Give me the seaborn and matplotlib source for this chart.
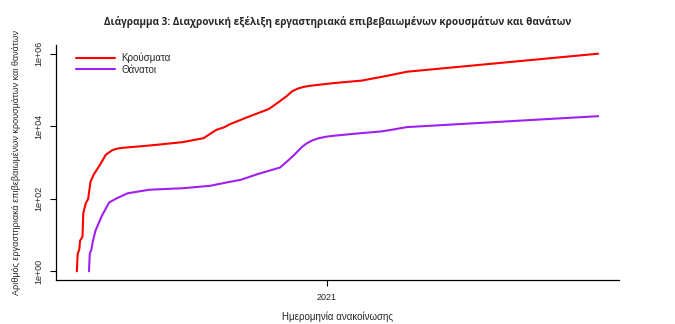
import matplotlib
matplotlib.use("Agg")
import matplotlib.pyplot as plt
from matplotlib.ticker import NullLocator
import numpy as np
import pandas as pd
import seaborn as sns

# Cumulative laboratory-confirmed cases
case_dates = [
    "2020-02-26", "2020-02-27", "2020-02-29", "2020-03-01", "2020-03-04",
    "2020-03-05", "2020-03-08", "2020-03-11", "2020-03-14", "2020-03-18",
    "2020-03-25", "2020-04-02", "2020-04-10", "2020-04-16", "2020-04-23",
    "2020-05-26", "2020-07-06", "2020-08-01", "2020-08-17", "2020-08-26",
    "2020-09-03", "2020-09-24", "2020-10-21", "2020-11-04", "2020-11-12",
    "2020-11-19", "2020-11-26", "2020-12-03", "2020-12-12", "2021-01-10",
    "2021-02-13", "2021-03-17", "2021-04-10", "2021-12-03",
]
cases = [
    1, 3, 4, 7, 9,
    40, 75, 99, 300, 470,
    820, 1650, 2200, 2420, 2550,
    2950, 3650, 4700, 8000, 9300,
    11500, 17700, 30000, 50000, 68000,
    93000, 110000, 122000, 132000, 156000,
    182000, 248000, 320000, 1005000,
]

# Cumulative deaths
death_dates = [
    "2020-03-12", "2020-03-13", "2020-03-15", "2020-03-17", "2020-03-20",
    "2020-03-28", "2020-04-06", "2020-04-15", "2020-04-29", "2020-05-26",
    "2020-07-07", "2020-08-09", "2020-09-03", "2020-09-16", "2020-10-07",
    "2020-11-04", "2020-11-12", "2020-11-21", "2020-12-01", "2020-12-07",
    "2020-12-14", "2020-12-22", "2021-01-01", "2021-01-10", "2021-02-13",
    "2021-03-09", "2021-03-22", "2021-04-10", "2021-12-03",
]
deaths = [
    1, 3, 4, 7, 13,
    34, 79, 102, 142, 178,
    196, 228, 295, 333, 480,
    730, 1050, 1600, 2700, 3400,
    4100, 4700, 5200, 5500, 6500,
    7200, 8000, 9500, 19000,
]

series_names = ["Κρούσματα", "Θάνατοι"]
series_colors = ["#FF0000", "#A020F0"]
y_ticks = [1, 1e2, 1e4, 1e6]
y_tick_labels = ["1e+00", "1e+02", "1e+04", "1e+06"]
x_tick_dates = ["2021-01-01"]
x_tick_labels = ["2021"]

title = "Διάγραμμα 3: Διαχρονική εξέλιξη εργαστηριακά επιβεβαιωμένων κρουσμάτων και θανάτων"
x_label = "Ημερομηνία ανακοίνωσης"
y_label = "Αριθμός εργαστηριακά επιβεβαιωμένων κρουσμάτων και θανάτων"

df = pd.concat([
    pd.DataFrame({"date": pd.to_datetime(case_dates), "value": cases, "series": series_names[0]}),
    pd.DataFrame({"date": pd.to_datetime(death_dates), "value": deaths, "series": series_names[1]}),
], ignore_index=True)

sns.set_style("white")
plt.rcParams["font.family"] = ["Liberation Sans", "DejaVu Sans"]

W, H = 675, 324
fig = plt.figure(figsize=(W / 100, H / 100), dpi=100)
ax = fig.add_axes([56 / W, 1 - 280 / H, (619 - 56) / W, (280 - 45) / H])

sns.lineplot(data=df, x="date", y="value", hue="series", hue_order=series_names,
             palette=series_colors, linewidth=1.5, ax=ax, estimator=None, sort=False)

ax.set_yscale("log")

# 4% padding on both axes around the data range
dmin, dmax = df["date"].min(), df["date"].max()
span = dmax - dmin
ax.set_xlim(dmin - span * 0.04, dmax + span * 0.04)
lmin, lmax = np.log10(df["value"].min()), np.log10(df["value"].max())
lspan = lmax - lmin
ax.set_ylim(10 ** (lmin - 0.04 * lspan), 10 ** (lmax + 0.04 * lspan))

ax.set_yticks(y_ticks)
ax.set_yticklabels(y_tick_labels, rotation=90, va="center", fontsize=6.5)
ax.yaxis.set_minor_locator(NullLocator())
ax.set_xticks(pd.to_datetime(x_tick_dates))
ax.set_xticklabels(x_tick_labels, fontsize=6.5)
ax.xaxis.set_minor_locator(NullLocator())

ax.tick_params(axis="both", which="major", direction="out", length=4, width=0.8,
               color="black", pad=5, left=True, bottom=True)

for side in ["top", "right"]:
    ax.spines[side].set_visible(False)
for side in ["left", "bottom"]:
    ax.spines[side].set_color("black")
    ax.spines[side].set_linewidth(0.9)

ax.set_xlabel(x_label, fontsize=7, labelpad=7)
ax.set_ylabel(y_label, fontsize=6.5, labelpad=10)

fig.text((56 + 619) / 2 / W, 1 - 22 / H, title, ha="center", va="center",
         fontsize=7.2, fontweight="bold", family=["Open Sans", "DejaVu Sans"])

leg = ax.legend(loc="upper left", bbox_to_anchor=(73 / W, 1 - 50 / H),
                bbox_transform=fig.transFigure, frameon=False, fontsize=7,
                handlelength=4.0, handletextpad=0.7, labelspacing=0.12,
                borderaxespad=0, borderpad=0.3)
for line in leg.get_lines():
    line.set_linewidth(1.5)

fig.savefig("out.png", dpi=100, facecolor="white")
